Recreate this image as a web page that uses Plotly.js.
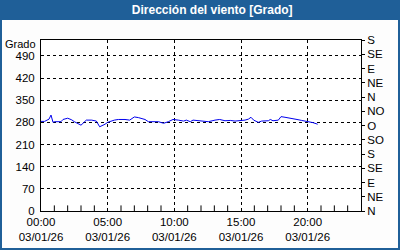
<!DOCTYPE html>
<html><head><meta charset="utf-8">
<script src="https://cdn.plot.ly/plotly-3.0.1.min.js"></script>
<style>html,body{margin:0;padding:0;background:#fdfdfd;}#c{width:400px;height:250px;}</style>
</head><body><div id="c"></div>
<script>
const chartTitle = 'Dirección del viento [Grado]';
const yTitle = 'Grado';
const dayStart = '2026-01-03 00:00:00';
const dayEnd = '2026-01-04 00:00:00';
const hours = [0,0.27,0.6,0.75,0.9,1.0,1.5,1.65,2.0,2.3,2.5,3.0,3.4,3.8,4.15,4.4,4.8,5.0,5.5,5.8,6.3,6.65,7.0,7.3,7.8,8.05,8.8,9.2,9.55,9.9,10.3,10.7,10.9,11.2,11.4,11.8,12.2,12.55,13.05,13.4,13.8,14.2,14.55,14.9,15.3,15.55,15.75,15.95,16.3,16.55,17.05,17.2,17.4,17.8,18.0,18.3,18.8,19.2,19.55,19.9,20.2,20.4,20.75];
const values = [283,283,290,303,280,282,282,289,293,288,282,271,287,287,284,266,274,280,287,289,289,287,297,295,289,282,282,277,282,289,287,284,287,282,287,285,282,282,287,289,285,286,284,285,287,290,296,287,280,284,285,289,285,287,298,296,293,289,286,284,282,279,274];
const minorTickHours = [1,2,3,4,6,7,8,9,11,12,13,14,16,17,18,19,21,22,23];
const xTickFormat = '%H:%M<br>%d/%m/%y';
const yTicks = [0,70,140,210,280,350,420,490];
const compassVals = [0,45,90,135,180,225,270,315,360,405,450,495,540];
const compassText = ['N','NE','E','SE','S','SO','O','NO','N','NE','E','SE','S'];

function ts(h){
  const totalMin = Math.round(h*60);
  const hh = Math.floor(totalMin/60), mm = totalMin%60;
  return '2026-01-03 '+String(hh).padStart(2,'0')+':'+String(mm).padStart(2,'0')+':00';
}
const xs = hours.map(ts);
const blue = '#1f5f98';
const font = {family:'Liberation Sans, Arial, sans-serif', size:11.5, color:'#000'};

const data = [
  {x: minorTickHours.map(ts), y: minorTickHours.map(() => 0), type:'scatter', mode:'markers', cliponaxis:true,
    marker:{symbol:'line-ns-open', size:8, color:'#000', line:{width:1, color:'#000'}}, hoverinfo:'skip', showlegend:false},
  {x: xs, y: values, type:'scatter', mode:'lines', line:{color:'#0000ee', width:1}, hoverinfo:'skip', showlegend:false},
  {x: [dayStart, dayEnd], y:[null,null], yaxis:'y2', type:'scatter', mode:'lines', showlegend:false, hoverinfo:'skip'}
];
const L=41, R=39, T=40, B=39, W=400-L-R, H=250-T-B;
const layout = {
  width:400, height:250,
  margin:{l:L, r:R, t:T, b:B, pad:0},
  paper_bgcolor:'#fdfdfd', plot_bgcolor:'#ffffff',
  font: font,
  title:{text:'<b>'+chartTitle+'</b>', font:{family:'Liberation Sans, Arial, sans-serif', size:12, color:'#ffffff'}, x:0.535, xanchor:'center', y:1-10/250, yanchor:'middle', xref:'paper', yref:'container'},
  xaxis:{type:'date', range:[dayStart, dayEnd], tickmode:'linear', tick0:dayStart, dtick:5*3600000, tickformat:xTickFormat,
    showgrid:true, gridcolor:'#000', griddash:'3px,3px', gridwidth:1,
    showline:true, linecolor:'#000', linewidth:1, mirror:true, ticks:'', zeroline:false,
    tickfont:font, fixedrange:true},
  yaxis:{range:[0,540], tickmode:'array', tickvals:yTicks, ticktext:yTicks.map(String),
    showgrid:true, gridcolor:'#000', griddash:'3px,3px', gridwidth:1, zeroline:false,
    showline:true, linecolor:'#000', linewidth:1, mirror:true, ticks:'', ticklabelstandoff:3, tickfont:font, fixedrange:true},
  yaxis2:{range:[0,540], overlaying:'y', side:'right', tickmode:'array', tickvals:compassVals, ticktext:compassText,
    showgrid:false, zeroline:false, showline:false, ticks:'outside', ticklen:3, tickcolor:'#000', tickfont:font, fixedrange:true},
  shapes:[
    {type:'rect', xref:'paper', yref:'paper', x0:-L/W, x1:(400-L)/W, y0:(H+T-20)/H, y1:(H+T)/H, fillcolor:blue, line:{width:0}, layer:'below'},
    {type:'rect', xref:'paper', yref:'paper', x0:-L/W, x1:(-L+2)/W, y0:-B/H, y1:(H+T)/H, fillcolor:blue, line:{width:0}, layer:'below'},
    {type:'rect', xref:'paper', yref:'paper', x0:(400-L-2)/W, x1:(400-L)/W, y0:-B/H, y1:(H+T)/H, fillcolor:blue, line:{width:0}, layer:'below'},
    {type:'rect', xref:'paper', yref:'paper', x0:-L/W, x1:(400-L)/W, y0:-B/H, y1:(-B+2)/H, fillcolor:blue, line:{width:0}, layer:'below'}
  ],
  annotations:[
    {text:yTitle, xref:'paper', yref:'paper', x:-3/W, y:(H-4)/H, xanchor:'right', yanchor:'middle', showarrow:false, font:{family:font.family, size:11, color:'#000'}}
  ]
};
Plotly.newPlot('c', data, layout, {staticPlot:true, displayModeBar:false});
</script></body></html>
